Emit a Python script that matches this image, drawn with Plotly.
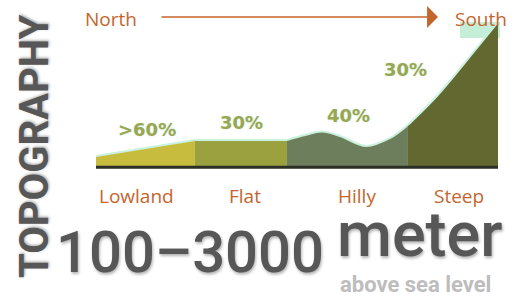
import plotly.graph_objects as go

# ---- data (distance along profile 0-100, relative elevation 0-100) ----
categories = ["Lowland", "Flat", "Hilly", "Steep"]
shares = [">60%", "30%", "40%", "30%"]

lowland_x = [0, 24.6]
lowland_y = [6.9, 18.1]
flat_x = [24.6, 47.5]
flat_y = [18.1, 18.1]
hilly_x = [47.5, 52.0, 56.2, 60.7, 67.2, 73.1, 77.6]
hilly_y = [18.1, 21.5, 23.9, 20.8, 13.9, 19.4, 28.5]
steep_x = [77.6, 84.8, 92.3, 100]
steep_y = [28.5, 48.6, 73.6, 100]

share_pos_x = [12.7, 36.1, 62.7, 76.9]
share_pos_y = [25.0, 29.9, 35.4, 66.7]
cat_pos_x = [10.0, 37.0, 64.9, 90.3]

W, H = 513, 304
fills = ["#c8bc3f", "#9ba13e", "#6d7e5d", "#62682f"]
segs = [(lowland_x, lowland_y, "linear"), (flat_x, flat_y, "linear"),
        (hilly_x, hilly_y, "spline"), (steep_x, steep_y, "spline")]

fig = go.Figure()
for (xs, ys, shp), col, name in zip(segs, fills, categories):
    fig.add_trace(go.Scatter(x=xs, y=ys, mode="lines", fill="tozeroy",
                             fillcolor=col, line=dict(color="#c9f1dd", width=2, shape=shp),
                             name=name, hoverinfo="skip"))
# baseline
fig.add_trace(go.Scatter(x=[0, 100], y=[-0.9, -0.9], mode="lines",
                         line=dict(color="#2b2f25", width=3), hoverinfo="skip"))


def A(**kw):
    d = dict(showarrow=False, xanchor="center", yanchor="middle")
    d.update(kw)
    return d


ann = []
for t, xx, yy in zip(shares, share_pos_x, share_pos_y):
    ann.append(A(x=xx, y=yy, xref="x", yref="y", text=t,
                 font=dict(family="DejaVu Sans", size=18, color="#9ca552", weight="bold",
                           shadow="0 0 2px #bff2d8")))
for t, xx in zip(categories, cat_pos_x):
    ann.append(A(x=xx, y=1 - 196 / H, xref="x", yref="paper", text=t,
                 font=dict(family="Open Sans", size=19, color="#c4652d")))

dark = "#575757"
ann += [
    A(x=111 / W, y=1 - 19 / H, xref="paper", yref="paper", text="North",
      font=dict(family="Open Sans", size=19, color="#c4652d")),
    A(x=481 / W, y=1 - 19 / H, xref="paper", yref="paper", text="South",
      font=dict(family="Open Sans", size=19, color="#c4652d")),
    dict(x=438 / W, y=1 - 17 / H, xref="paper", yref="paper", text="", showarrow=True,
         ax=-278, ay=0, arrowhead=1, arrowsize=2.6, arrowwidth=1.4, arrowcolor="#c4652d", standoff=0),
    A(x=34 / W, y=1 - 147 / H, xref="paper", yref="paper", text="TOPOGRAPHY",
      textangle=-90,
      font=dict(family="Roboto", size=40, color=dark, weight="bold",
                shadow="1px 1px 3px rgba(0,0,0,0.35)")),
    A(x=190 / W, y=1 - 252 / H, xref="paper", yref="paper", text="100\u20133000",
      font=dict(family="Roboto", size=58, color=dark, weight=500,
                shadow="1px 2px 3px rgba(0,0,0,0.3)")),
    A(x=420 / W, y=1 - 234 / H, xref="paper", yref="paper", text="meter",
      font=dict(family="Roboto", size=63, color=dark, weight=500,
                shadow="1px 2px 3px rgba(0,0,0,0.3)")),
    A(x=415 / W, y=1 - 284 / H, xref="paper", yref="paper", text="above sea level",
      font=dict(family="Roboto", size=22, color="#bdbdbd", weight="bold")),
]

shapes = [dict(type="rect", xref="paper", yref="paper", x0=460 / W, x1=500 / W,
               y0=1 - 38 / H, y1=1 - 22 / H, fillcolor="#c5eed9", line=dict(width=0), layer="below")]

fig.update_layout(
    width=W, height=H, margin=dict(l=0, r=0, t=0, b=0),
    paper_bgcolor="white", plot_bgcolor="rgba(0,0,0,0)", showlegend=False,
    xaxis=dict(range=[0, 100], domain=[96 / W, 498 / W], visible=False, fixedrange=True),
    yaxis=dict(range=[-3, 100], domain=[1 - 170.3 / H, 1 - 22 / H], visible=False, fixedrange=True),
    annotations=ann, shapes=shapes,
)
fig.write_html("out.html", config={"displayModeBar": False},
               post_script="document.body.style.margin='0px';")
